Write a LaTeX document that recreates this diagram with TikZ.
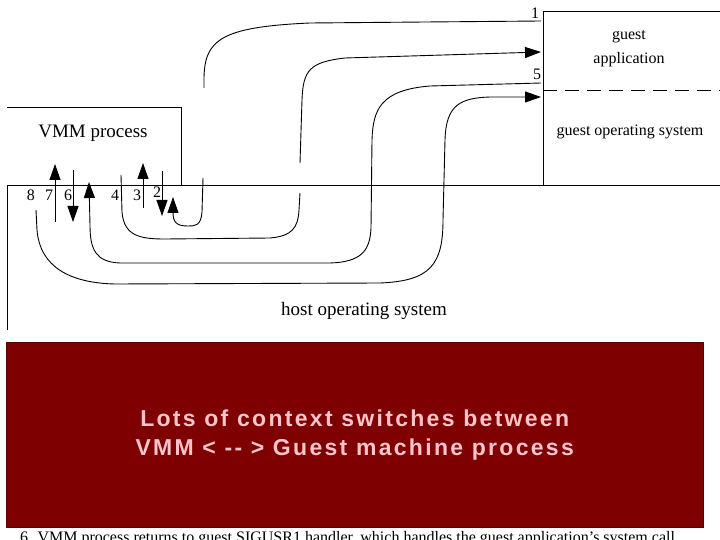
\documentclass[tikz,border=0pt]{standalone}
\usepackage{fontspec}
\setmainfont{Liberation Serif}
\newfontfamily\slidefont[LetterSpace=10]{Liberation Sans Bold}
\usetikzlibrary{arrows.meta}
\definecolor{slidered}{HTML}{7E0000}
\definecolor{slidepink}{HTML}{FFC4CC}

\begin{document}
\begin{tikzpicture}[x=1pt,y=-1pt,
    lbl/.style={font=\fontsize{19}{19}\selectfont,anchor=base,inner sep=0pt},
    glbl/.style={font=\fontsize{16}{16}\selectfont,anchor=base,inner sep=0pt},
    num/.style={glbl},
    wall/.style={line width=1pt},
    trace/.style={line width=0.9pt},
    a/.style={trace,-{Triangle[length=16pt,width=11pt]}}]
    \useasboundingbox[fill=white] (0,0) rectangle (720,540);
    % walls
    \draw[wall] (7,330) -- (7,186) -- (720,186);
    \draw[wall] (7,108) -- (181,108) -- (181,186);
    \draw[wall] (720,12) -- (543,12) -- (543,186);
    \draw[wall,dash pattern=on 14pt off 8pt] (543,91) -- (720,91);
    % labels
    \node[lbl] (vmm) at (93,138) {VMM process};
    \node[lbl] (host) at (364,315) {host operating system};
    \node[glbl] (gapp) at (629,40) {guest};
    \node[glbl] (gapp2) at (629,64) {application};
    \node[glbl] (gos) at (630,136) {guest operating system};
    \node[num] (n1) at (535,19) {1};
    \node[num] (n5) at (537,80) {5};
    \node[num] (n8) at (31,201) {8};
    \node[num] (n7) at (49,201) {7};
    \node[num] (n6) at (68,201) {6};
    \node[num] (n4) at (115,201) {4};
    \node[num] (n3) at (137,201) {3};
    \node[num] (n2) at (157,197) {2};
    % end points
    \coordinate (g1) at (541,21);
    \coordinate (g4) at (541,52);
    \coordinate (g5) at (541,83);
    \coordinate (g8) at (541,97);
    \coordinate (v8) at (36,210);
    \coordinate (v4) at (121,175);
    % short arrows
    \draw[a] (55,222) -- (55,164);
    \draw[a] (73,170) -- (73,222);
    \draw[a] (143,208) -- (143,163);
    \draw[a] (162,171) -- (162,216);
    % 1 -> 2
    \draw[trace] (g1) -- (310,23) .. controls (220,27) and (204,40) .. (204,80) -- (204,88);
    \draw[a] (203,178) -- (202,212) .. controls (201,226) and (195,226) .. (188,226)
      .. controls (176,226) and (173,222) .. (173,212) -- (173,197);
    % 4 -> guest application
    \draw[trace] (v4) -- (122,212) .. controls (124,236) and (140,239) .. (165,239) -- (270,238)
      .. controls (292,236) and (298,228) .. (299,210) -- (300,193);
    \draw[a] (300,163) -- (302,100) .. controls (303,70) and (310,62) .. (345,58) -- (g4);
    % 5 -> 6
    \draw[a] (g5) -- (430,86) .. controls (380,90) and (373,110) .. (372,140) -- (371,228)
      .. controls (370,252) and (360,262) .. (330,263) -- (120,263)
      .. controls (96,262) and (90,250) .. (90,225) -- (89,182);
    % 8 -> guest operating system
    \draw[a] (v8) -- (37,230) .. controls (40,267) and (70,283) .. (115,284) -- (380,283)
      .. controls (430,281) and (443,265) .. (443,220) -- (445,140)
      .. controls (446,105) and (460,98) .. (490,97) -- (g8);
    % slide overlay
    \node[anchor=base west,inner sep=0pt,font=\fontsize{16}{16}\selectfont] (step6) at (20,542)
      {6. VMM process returns to guest SIGUSR1 handler, which handles the guest application's system call};
    \node[anchor=north west,fill=slidered,draw=slidered!70!black,minimum width=697pt,
      minimum height=185pt,align=center,text=slidepink,
      font=\slidefont\fontsize{23}{29}\selectfont] (note) at (6,342)
      {Lots of context switches between\\VMM < -- > Guest machine process};
\end{tikzpicture}
\end{document}
